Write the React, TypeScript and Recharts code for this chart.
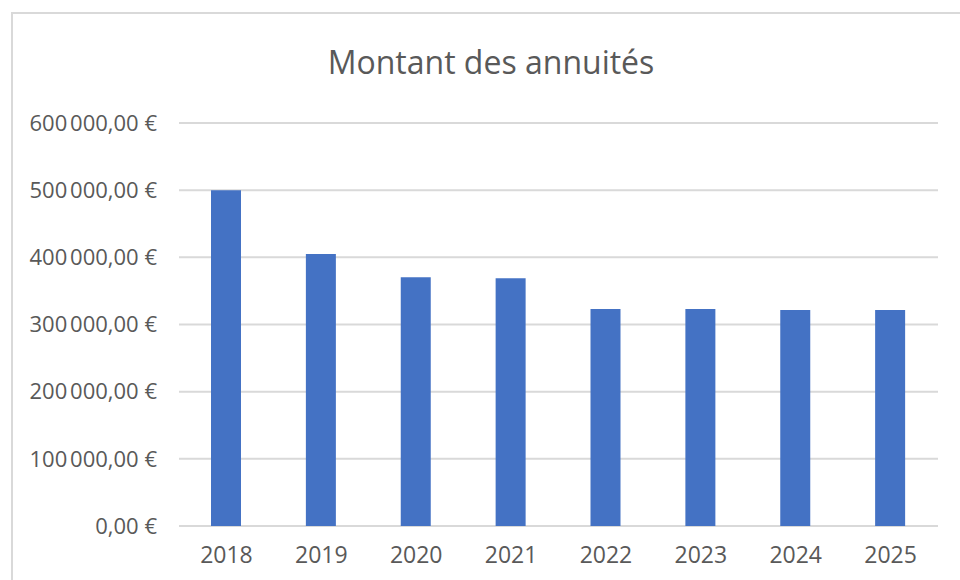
import { BarChart, Bar, CartesianGrid, XAxis, YAxis } from "recharts";

const years = ["2018", "2019", "2020", "2021", "2022", "2023", "2024", "2025"];
const annuites = [500000, 405000, 370500, 369000, 323000, 323000, 321500, 321500];
const yTicks = [0, 100000, 200000, 300000, 400000, 500000, 600000];

const chartData = years.map((year, i) => ({ year, montant: annuites[i] }));

const textColor = "#595959";
const font = "'Open Sans', sans-serif";

function formatEuro(value: number) {
  const grouped = Math.round(value)
    .toString()
    .replace(/\B(?=(\d{3})+(?!\d))/g, "\u202F");
  return `${grouped},00 €`;
}

export default function App() {
  return (
    <div style={{ position: "absolute", left: 0, top: 0, width: 960, height: 580, overflow: "hidden", background: "#fff" }}>
      <div
        style={{
          position: "absolute",
          left: 11,
          top: 12,
          width: 980,
          height: 600,
          border: "2px solid #d9d9d9",
          boxSizing: "border-box"
        }}
      />
      <div
        style={{
          position: "absolute",
          left: 0,
          width: 982,
          top: 46,
          textAlign: "center",
          fontFamily: font,
          fontSize: 32,
          lineHeight: 1,
          color: textColor
        }}
      >
        Montant des annuités
      </div>
      <div style={{ position: "absolute", left: 0, top: 0 }}>
        <BarChart
          width={960}
          height={580}
          data={chartData}
          margin={{ top: 123, right: 22, left: 0, bottom: 0 }}
        >
          <CartesianGrid vertical={false} stroke="#d9d9d9" strokeWidth={2} />
          <XAxis
            dataKey="year"
            axisLine={false}
            tickLine={false}
            tickSize={0}
            tickMargin={21}
            height={54}
            tick={{ fill: textColor, fontSize: 23, fontFamily: font }}
          />
          <YAxis
            domain={[0, 600000]}
            ticks={yTicks}
            axisLine={false}
            tickLine={false}
            tickSize={0}
            tickMargin={22}
            width={179}
            tickFormatter={formatEuro}
            tick={{ fill: textColor, fontSize: 22, fontFamily: font }}
          />
          <Bar dataKey="montant" fill="#4472c4" barSize={30} isAnimationActive={false} />
        </BarChart>
      </div>
    </div>
  );
}
